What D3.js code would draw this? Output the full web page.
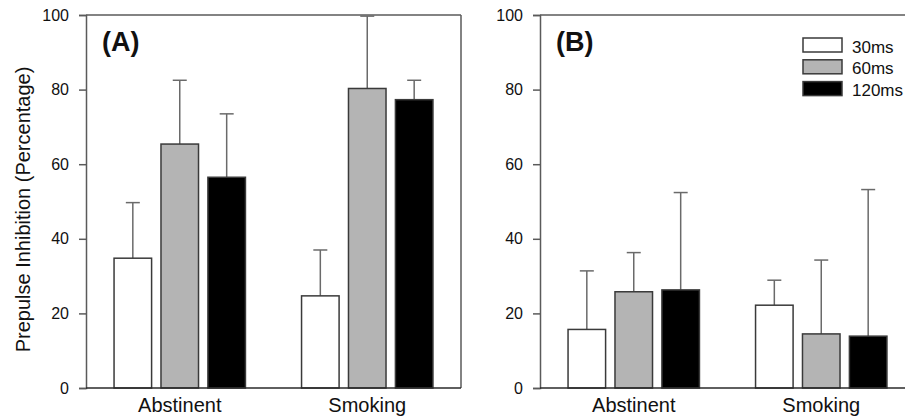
<!DOCTYPE html>
<html>
<head>
<meta charset="utf-8">
<script src="https://cdn.jsdelivr.net/npm/d3@7"></script>
<style>
  html, body { margin: 0; padding: 0; background: #fff; }
  svg { display: block; font-family: Arial, "Liberation Sans", Helvetica, sans-serif; }
</style>
</head>
<body>
<svg id="chart" width="905" height="420"></svg>
<script>
// ---- data ----
const categories = ["Abstinent", "Smoking"];
const series = ["30ms", "60ms", "120ms"];
const yTicks = [0, 20, 40, 60, 80, 100];
const panelLabels = ["(A)", "(B)"];
// Panel A means and upper error values (mean + SEM)
const meansA = [[34.8, 65.4, 56.5], [24.7, 80.3, 77.3]];
const upperA = [[49.7, 82.5, 73.5], [37.0, 99.7, 82.5]];
// Panel B
const meansB = [[15.7, 25.8, 26.3], [22.2, 14.5, 13.9]];
const upperB = [[31.4, 36.3, 52.4], [28.9, 34.3, 53.2]];
const yTitle = "Prepulse Inhibition (Percentage)";

const fills = ["#ffffff", "#b4b4b4", "#000000"];

const svg = d3.select("#chart");

function drawPanel(cfg) {
  const { left, right, top, bottom, means, upper, label, showTitle, rightBorder } = cfg;
  const g = svg.append("g");
  const y = d3.scaleLinear().domain([0, 100]).range([bottom, top]);
  const x0 = d3.scaleBand().domain(categories).range([left, left + 375]).padding(0);
  const x1 = d3.scaleBand().domain(series).range([-65.7, 65.7]).paddingInner(0.2).paddingOuter(0);

  // frame: top border, right border
  g.append("line").attr("x1", left).attr("x2", right).attr("y1", y(100)).attr("y2", y(100))
    .attr("stroke", "#5a5a5a").attr("stroke-width", 1.5);
  if (rightBorder) {
    g.append("line").attr("x1", right).attr("x2", right).attr("y1", y(100)).attr("y2", y(0))
      .attr("stroke", "#5a5a5a").attr("stroke-width", 1.5);
  }

  // y axis
  const yAxis = d3.axisLeft(y).tickValues(yTicks).tickSize(7).tickPadding(10).tickFormat(d3.format("d"));
  const ya = g.append("g").attr("transform", `translate(${left},0)`).call(yAxis);
  ya.select(".domain").attr("stroke", "#5a5a5a").attr("stroke-width", 1.5);
  ya.selectAll(".tick line").attr("stroke", "#5a5a5a").attr("stroke-width", 1.5);
  ya.selectAll(".tick text").attr("font-size", 16).attr("fill", "#111")
    .attr("font-family", "Arial, 'Liberation Sans', sans-serif");

  // bars
  categories.forEach((c, ci) => {
    const cx = x0(c) + x0.bandwidth() / 2;
    series.forEach((s, si) => {
      const v = means[ci][si];
      const up = upper[ci][si];
      const bx = cx + x1(s);
      const bw = x1.bandwidth();
      const mx = bx + bw / 2;
      // error bar (upward)
      g.append("line").attr("x1", mx).attr("x2", mx).attr("y1", y(v)).attr("y2", y(up))
        .attr("stroke", "#6a6a6a").attr("stroke-width", 1.5);
      g.append("line").attr("x1", mx - 7).attr("x2", mx + 7).attr("y1", y(up)).attr("y2", y(up))
        .attr("stroke", "#6a6a6a").attr("stroke-width", 1.5);
      g.append("rect").attr("x", bx).attr("y", y(v)).attr("width", bw).attr("height", y(0) - y(v))
        .attr("fill", fills[si]).attr("stroke", "#3a3a3a").attr("stroke-width", 1.5);
    });
  });

  // x axis
  const xAxis = d3.axisBottom(x0).tickSize(0).tickPadding(10);
  const xa = g.append("g").attr("transform", `translate(0,${bottom})`).call(xAxis);
  xa.select(".domain").remove();
  g.append("line").attr("x1", left).attr("x2", right).attr("y1", bottom).attr("y2", bottom)
    .attr("stroke", "#2a2a2a").attr("stroke-width", 1.6);
  xa.selectAll(".tick text").attr("font-size", 20).attr("fill", "#111")
    .attr("font-family", "Arial, 'Liberation Sans', sans-serif");

  // panel label
  g.append("text").attr("x", left + 16).attr("y", 51).attr("font-size", 27).attr("font-weight", "bold")
    .attr("fill", "#111").text(label);

  if (showTitle) {
    g.append("text").attr("transform", `translate(30,${(top + bottom) / 2 + 8}) rotate(-90)`)
      .attr("text-anchor", "middle").attr("font-size", 20).attr("fill", "#111").text(yTitle);
  }
  return { y };
}

drawPanel({ left: 86, right: 461, top: 15, bottom: 388, means: meansA, upper: upperA,
  label: panelLabels[0], showTitle: true, rightBorder: true });
drawPanel({ left: 540, right: 915, top: 15, bottom: 388, means: meansB, upper: upperB,
  label: panelLabels[1], showTitle: false, rightBorder: false });

// legend
const legend = svg.append("g").attr("transform", "translate(803,38)");
series.forEach((s, i) => {
  const row = legend.append("g").attr("transform", `translate(0,${i * 21.8})`);
  row.append("rect").attr("width", 39).attr("height", 14).attr("fill", fills[i])
    .attr("stroke", "#3a3a3a").attr("stroke-width", 1.5);
  row.append("text").attr("x", 49).attr("y", 14.5).attr("font-size", 17).attr("fill", "#111").text(s);
});
</script>
</body>
</html>
